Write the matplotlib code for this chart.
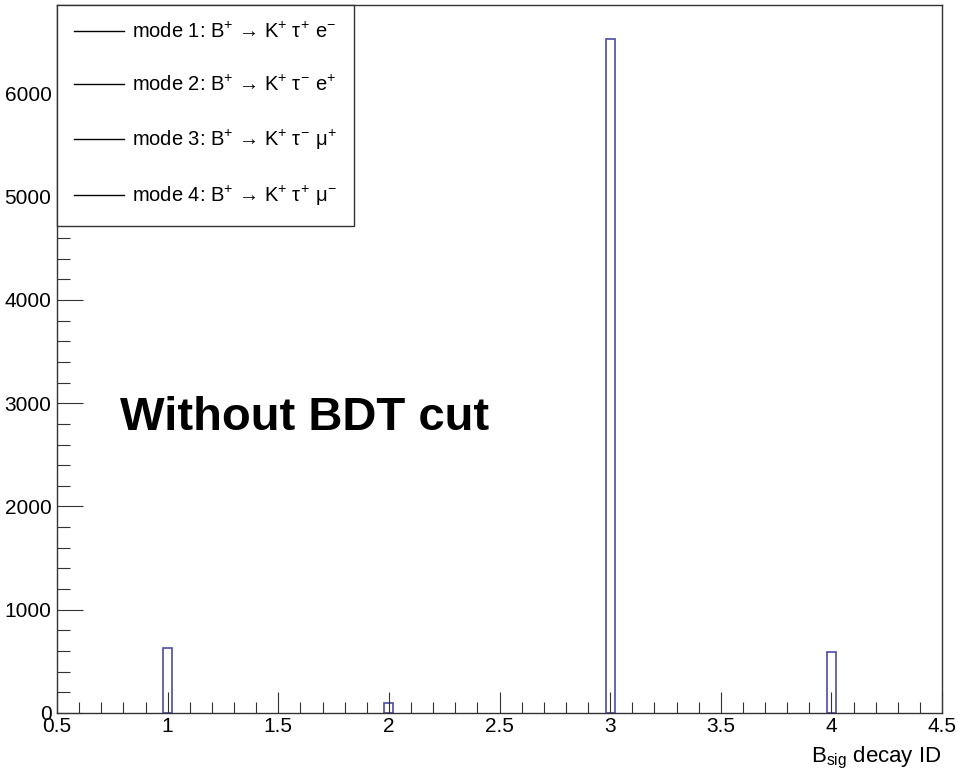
import matplotlib
matplotlib.use("Agg")
import matplotlib.pyplot as plt
from matplotlib.lines import Line2D
from matplotlib.ticker import MultipleLocator

plt.rcParams["font.family"] = ["Liberation Sans", "DejaVu Sans"]
plt.rcParams["mathtext.fontset"] = "custom"
plt.rcParams["mathtext.rm"] = "Liberation Sans"
plt.rcParams["mathtext.it"] = "Liberation Sans"
plt.rcParams["mathtext.sf"] = "Liberation Sans"

# histogram contents (B_sig decay ID)
decay_id = [1, 2, 3, 4]
counts = [630, 95, 6530, 590]
bin_width = 0.04

mode_labels = [
    "mode 1: B$^{+}$ \u2192 K$^{+}$ $\\tau^{+}$ e$^{-}$",
    "mode 2: B$^{+}$ \u2192 K$^{+}$ $\\tau^{-}$ e$^{+}$",
    "mode 3: B$^{+}$ \u2192 K$^{+}$ $\\tau^{-}$ $\\mu^{+}$",
    "mode 4: B$^{+}$ \u2192 K$^{+}$ $\\tau^{+}$ $\\mu^{-}$",
]

fig = plt.figure(figsize=(9.58, 7.79), dpi=100)
ax = fig.add_axes([57 / 958, 1 - 713 / 779, 885 / 958, 708 / 779])

ax.bar(decay_id, counts, width=bin_width, fill=False,
       edgecolor="#4b4ba8", linewidth=1.2)

ax.set_xlim(0.5, 4.5)
ax.set_ylim(0, 1.05 * max(counts))

ax.xaxis.set_minor_locator(MultipleLocator(0.1))
ax.yaxis.set_major_locator(MultipleLocator(1000))
ax.yaxis.set_minor_locator(MultipleLocator(200))
ax.set_xticks([0.5, 1, 1.5, 2, 2.5, 3, 3.5, 4, 4.5])
ax.set_xticklabels(["0.5", "1", "1.5", "2", "2.5", "3", "3.5", "4", "4.5"])

ax.tick_params(axis="x", which="major", direction="in", length=15, width=0.8,
               labelsize=15, pad=3, color="#333333")
ax.tick_params(axis="x", which="minor", direction="in", length=8, width=0.8,
               color="#333333")
ax.tick_params(axis="y", which="major", direction="in", length=19, width=0.8,
               labelsize=15, pad=4, color="#333333")
ax.tick_params(axis="y", which="minor", direction="in", length=9.5, width=0.8,
               color="#333333")

for s in ax.spines.values():
    s.set_linewidth(1.0)
    s.set_color("#333333")

ax.set_xlabel(r"B$_{\rm sig}$ decay ID", fontsize=16, loc="right", labelpad=6)

ax.text(0.071, 0.417, "Without BDT cut", transform=ax.transAxes,
        fontsize=34, fontweight="bold", va="center", ha="left")

handles = [Line2D([], [], color="black", linewidth=1.0) for _ in mode_labels]
leg = ax.legend(handles, mode_labels, loc="upper left", bbox_to_anchor=(0, 1),
                borderaxespad=0, fontsize=14.5, frameon=True, fancybox=False,
                edgecolor="#333333", framealpha=1, labelspacing=1.62,
                handlelength=2.5, handletextpad=0.35, borderpad=0.85)
leg.get_frame().set_linewidth(1.0)

fig.savefig("out.png", dpi=100)
